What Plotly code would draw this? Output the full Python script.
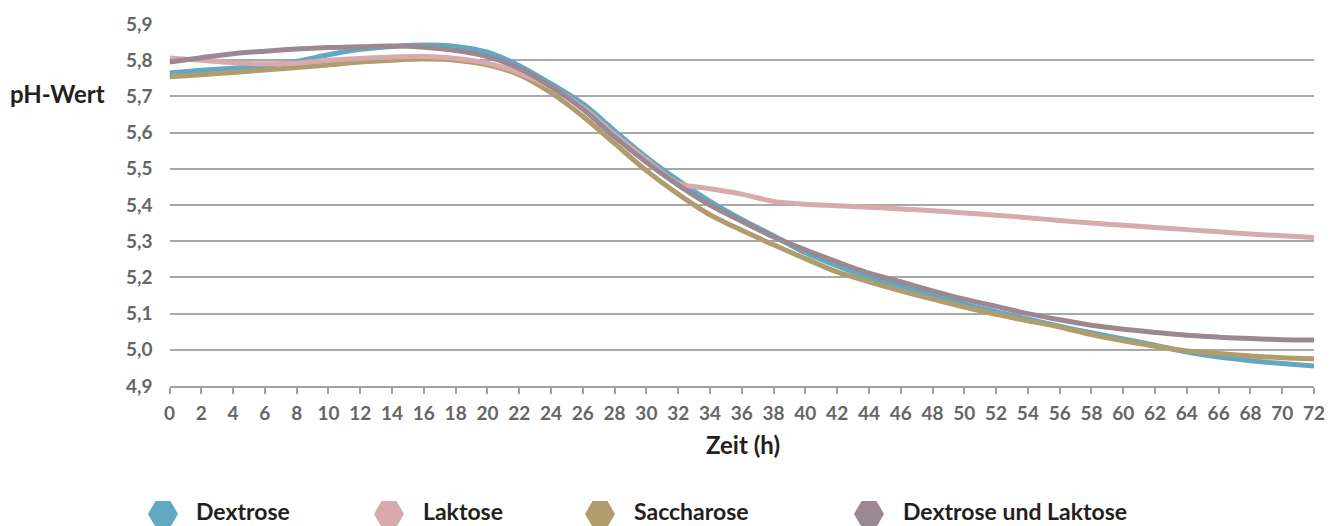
import plotly.graph_objects as go

# ---- data ----
zeit_h = list(range(0, 74, 2))

dextrose = [5.765, 5.772, 5.778, 5.785, 5.797, 5.815, 5.830, 5.838, 5.842, 5.838,
            5.822, 5.785, 5.735, 5.680, 5.605, 5.532, 5.468, 5.410, 5.360, 5.315,
            5.268, 5.232, 5.200, 5.176, 5.150, 5.127, 5.105, 5.085, 5.065, 5.047,
            5.030, 5.013, 4.994, 4.980, 4.970, 4.962, 4.955]

laktose = [5.806, 5.800, 5.793, 5.790, 5.792, 5.800, 5.805, 5.809, 5.810, 5.805,
           5.792, 5.765, 5.725, 5.670, 5.595, 5.525, 5.460, 5.445, 5.430, 5.410,
           5.402, 5.398, 5.394, 5.389, 5.384, 5.378, 5.372, 5.365, 5.357, 5.350,
           5.344, 5.338, 5.332, 5.326, 5.320, 5.315, 5.310]

saccharose = [5.754, 5.760, 5.766, 5.773, 5.780, 5.787, 5.795, 5.800, 5.803, 5.800,
              5.787, 5.760, 5.710, 5.645, 5.570, 5.495, 5.430, 5.373, 5.330, 5.290,
              5.252, 5.215, 5.188, 5.163, 5.140, 5.118, 5.098, 5.080, 5.063, 5.042,
              5.025, 5.010, 4.997, 4.990, 4.983, 4.978, 4.975]

dextrose_laktose = [5.795, 5.807, 5.818, 5.825, 5.831, 5.835, 5.837, 5.839, 5.836, 5.827,
                    5.810, 5.777, 5.727, 5.665, 5.588, 5.518, 5.455, 5.400, 5.355, 5.312,
                    5.276, 5.243, 5.212, 5.188, 5.163, 5.140, 5.120, 5.100, 5.083, 5.068,
                    5.057, 5.048, 5.040, 5.035, 5.031, 5.028, 5.027]

series_names = ["Dextrose", "Laktose", "Saccharose", "Dextrose und Laktose"]
series_values = [dextrose, laktose, saccharose, dextrose_laktose]

y_ticks = [4.9, 5.0, 5.1, 5.2, 5.3, 5.4, 5.5, 5.6, 5.7, 5.8, 5.9]
x_ticks = list(range(0, 74, 2))

# ---- styling ----
colors = {"Dextrose": "#63a8c1", "Laktose": "#d9aaad",
          "Saccharose": "#b09c6c", "Dextrose und Laktose": "#9b8893"}
FONT = "Lato"
# the page body has an 8px margin, so the figure is made 8px smaller and all
# pixel positions below are given in page coordinates minus that offset
OFF = 8
W, H = 1344 - OFF, 526 - OFF
plot_left, plot_right = 169.5 - OFF, 1314 - OFF
plot_top, plot_bottom = 24 - OFF, 386 - OFF

fig = go.Figure()

draw_order = ["Dextrose", "Saccharose", "Laktose", "Dextrose und Laktose"]
for name in draw_order:
    vals = series_values[series_names.index(name)]
    fig.add_trace(go.Scatter(
        x=zeit_h, y=vals, mode="lines", name=name,
        line=dict(color=colors[name], width=5, shape="spline", smoothing=0.8),
        showlegend=False, hoverinfo="x+y+name",
    ))

# legend-style key drawn with a marker trace on its own axes
leg_marker_x = [x - OFF for x in (163, 389, 600, 869)]
leg_text_x = [x - OFF for x in (196, 423, 634, 903)]
fig.add_trace(go.Scatter(
    x=leg_marker_x, y=[H - (514 - OFF)] * 4, mode="markers",
    marker=dict(symbol="hexagon2", size=30,
                color=[colors[n] for n in series_names], line=dict(width=0)),
    xaxis="x2", yaxis="y2", showlegend=False, hoverinfo="skip", cliponaxis=False,
))
fig.add_trace(go.Scatter(
    x=leg_text_x, y=[H - (514 - OFF)] * 4, mode="text", text=series_names,
    textposition="middle right",
    textfont=dict(family=FONT, size=23, color="#231f20", weight="bold"),
    xaxis="x2", yaxis="y2", showlegend=False, hoverinfo="skip", cliponaxis=False,
))

plot_h = H - plot_top
ydom0 = (H - plot_bottom) / plot_h

fig.update_layout(
    width=W, height=H,
    margin=dict(l=0, r=0, t=plot_top, b=0, pad=0, autoexpand=False),
    paper_bgcolor="white", plot_bgcolor="white",
    separators=",.",
    xaxis=dict(
        domain=[plot_left / W, plot_right / W], automargin=False,
        range=[0, 72], tickvals=x_ticks, ticktext=[str(t) for t in x_ticks],
        showgrid=False, zeroline=False,
        showline=True, linecolor="#a0a0a0", linewidth=1.5,
        ticks="outside", ticklen=6, tickwidth=1.5, tickcolor="#a0a0a0",
        tickfont=dict(family=FONT, size=19, color="#666666", weight="bold"),
        ticklabelstandoff=3,
    ),
    yaxis=dict(
        domain=[ydom0, 1], automargin=False,
        range=[4.9, 5.9], tickvals=y_ticks, tickformat=".1f",
        showgrid=True, gridcolor="#a8a8a8", gridwidth=1.5,
        zeroline=False, showline=False, ticks="",
        tickfont=dict(family=FONT, size=19, color="#666666", weight="bold"),
        ticklabelstandoff=16,
    ),
    xaxis2=dict(domain=[0, 1], range=[0, W], visible=False, fixedrange=True,
                anchor="y2", automargin=False),
    yaxis2=dict(domain=[0, ydom0], range=[0, H - plot_bottom], visible=False,
                fixedrange=True, anchor="x2", automargin=False),
    annotations=[
        dict(text="pH-Wert", x=(58 - OFF) / W, y=1 - (93 - 24) / plot_h,
             xref="paper", yref="paper", xanchor="center", yanchor="middle",
             showarrow=False,
             font=dict(family=FONT, size=24, color="#231f20", weight="bold")),
        dict(text="Zeit (h)", x=(743 - OFF) / W, y=1 - (444 - 24) / plot_h,
             xref="paper", yref="paper", xanchor="center", yanchor="middle",
             showarrow=False,
             font=dict(family=FONT, size=24, color="#231f20", weight="bold")),
    ],
)

fig.write_html("out.html")
